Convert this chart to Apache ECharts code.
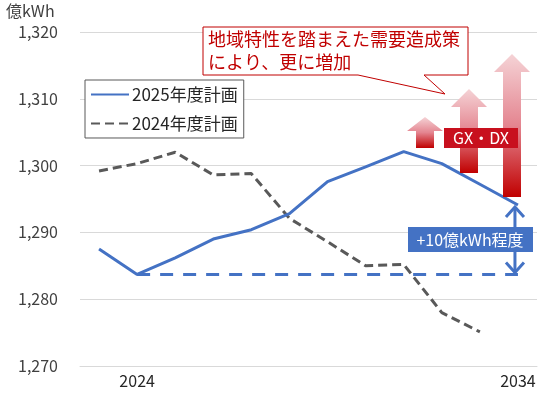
<!DOCTYPE html>
<html><head><meta charset="utf-8">
<script src="https://cdn.jsdelivr.net/npm/echarts@6/dist/echarts.min.js"></script>
<style>html,body{margin:0;padding:0;background:#fff}#c{width:548px;height:393px}</style>
</head><body><div id="c"></div>
<script>
var years = ['2023','2024','2025','2026','2027','2028','2029','2030','2031','2032','2033','2034'];
var shownYears = ['2024','2034'];
var plan2025 = [1287.5,1283.7,1286.2,1289.0,1290.4,1292.8,1297.6,1299.8,1302.1,1300.3,1297.2,1294.1];
var plan2024 = [1299.2,1300.3,1302.0,1298.6,1298.8,1292.1,1288.6,1285.0,1285.2,1278.0,1275.1,null];
var baseline = [null,1283.7,1283.7,1283.7,1283.7,1283.7,1283.7,1283.7,1283.7,1283.7,1283.7,1283.7];
var yTicks = {min:1270, max:1320, interval:10};
var seriesNames = ['2025年度計画','2024年度計画'];
var calloutText = '地域特性を踏まえた需要造成策\nにより、更に増加';
var gxText = 'GX・DX';
var diffText = '+10億kWh程度';
var unitText = '億kWh';

var BLUE='#4472C4', GRAY='#595959', RED='#C00000';
var FONT='"Noto Sans CJK JP","Noto Sans",sans-serif';
var chart = echarts.init(document.getElementById('c'));
chart.setOption({
  animation:false,
  grid:{left:80,right:11,top:32,bottom:27},
  xAxis:{type:'category',data:years,boundaryGap:true,
    axisLine:{show:true,lineStyle:{color:'#d9d9d9'}},axisTick:{show:false},
    axisLabel:{interval:0,formatter:function(v){return shownYears.indexOf(v)>=0?v:'';},
      color:'#262626',fontSize:16,fontFamily:FONT,margin:7}},
  yAxis:{type:'value',min:yTicks.min,max:yTicks.max,interval:yTicks.interval,
    axisLine:{show:false},axisTick:{show:false},
    splitLine:{lineStyle:{color:'#d9d9d9',width:1}},
    axisLabel:{formatter:function(v){return v.toLocaleString('en-US');},color:'#404040',fontSize:16,fontFamily:FONT,margin:22}},
  legend:{data:seriesNames,orient:'vertical',left:85,top:80,
    backgroundColor:'#fff',borderColor:GRAY,borderWidth:1,padding:[6,6,6,5],
    itemWidth:38,itemHeight:16,itemGap:12,itemStyle:{opacity:0},
    textStyle:{fontSize:17,color:'#262626',fontFamily:FONT,padding:[0,0,0,-2]}},
  series:[
    {name:seriesNames[0],type:'line',data:plan2025,symbol:'none',lineStyle:{color:BLUE,width:3},itemStyle:{color:BLUE},z:5},
    {name:seriesNames[1],type:'line',data:plan2024,symbol:'none',lineStyle:{color:GRAY,width:3,type:[9,5]},itemStyle:{color:GRAY},z:4},
    {name:'base',type:'line',data:baseline,symbol:'none',lineStyle:{color:BLUE,width:3,type:[13,10]},itemStyle:{color:BLUE},z:3}
  ]
});

var pTop = chart.convertToPixel({xAxisIndex:0,yAxisIndex:0},[11,plan2025[11]]);
var pBot = chart.convertToPixel({xAxisIndex:0,yAxisIndex:0},[11,baseline[11]]);
var ax = pTop[0]-3;
function redArrow(cx, yTop, yHeadBase, yBot){
  var hw=18, sw=9;
  return {type:'polygon',shape:{points:[[cx,yTop],[cx+hw,yHeadBase],[cx+sw,yHeadBase],[cx+sw,yBot],[cx-sw,yBot],[cx-sw,yHeadBase],[cx-hw,yHeadBase]]},
    style:{fill:new echarts.graphic.LinearGradient(0,0,0,1,[{offset:0,color:'#f5d3d6'},{offset:0.5,color:'#e48590'},{offset:1,color:'#c00000'}])},z:10};
}
chart.setOption({graphic:[
  {type:'text',left:6,top:3,style:{text:unitText,fontSize:16,fill:'#404040',fontFamily:FONT}},
  redArrow(425,117,131,148),
  redArrow(469,89,107,173),
  redArrow(512,54,72,197),
  {type:'rect',shape:{x:444,y:128,width:74,height:20},style:{fill:'#C8101E'},z:11},
  {type:'text',x:481,y:138,style:{text:gxText,fontSize:16,fill:'#fff',fontFamily:FONT,align:'center',verticalAlign:'middle'},z:12},
  {type:'polygon',shape:{points:[[203,27],[468,27],[468,75],[424,75],[445,94],[358,75],[203,75]]},style:{fill:'#fff',stroke:RED,lineWidth:1},z:9},
  {type:'text',x:208,y:51,style:{text:calloutText,fontSize:18,lineHeight:23,fill:RED,fontFamily:FONT,verticalAlign:'middle'},z:10},
  {type:'polyline',shape:{points:[[ax,pTop[1]+2],[ax,pBot[1]-2]]},style:{stroke:BLUE,lineWidth:3},z:11},
  {type:'polyline',shape:{points:[[ax-9,pTop[1]+12],[ax,pTop[1]+2],[ax+9,pTop[1]+12]]},style:{stroke:BLUE,lineWidth:3,fill:null},z:11},
  {type:'polyline',shape:{points:[[ax-9,pBot[1]-12],[ax,pBot[1]-2],[ax+9,pBot[1]-12]]},style:{stroke:BLUE,lineWidth:3,fill:null},z:11},
  {type:'rect',shape:{x:408,y:227,width:125,height:25},style:{fill:BLUE},z:12},
  {type:'text',x:470,y:240,style:{text:diffText,fontSize:16,fill:'#fff',fontFamily:FONT,align:'center',verticalAlign:'middle'},z:13}
]});
</script></body></html>
